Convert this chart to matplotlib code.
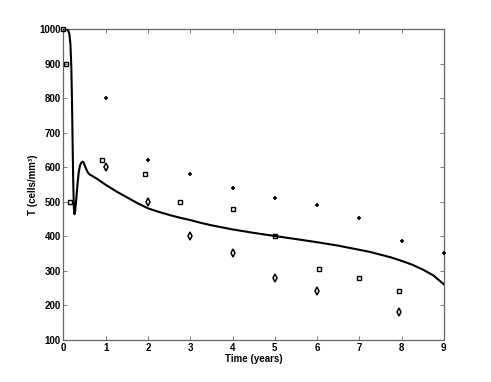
import matplotlib
matplotlib.use("Agg")
import matplotlib.pyplot as plt

# Model curve
curve_t = [0, 0.08, 0.11, 0.14, 0.165, 0.185, 0.2, 0.215, 0.23, 0.245, 0.258, 0.275,
           0.3, 0.33, 0.36, 0.39, 0.42, 0.45, 0.47, 0.5, 0.54, 0.58, 0.62, 0.65,
           0.8, 1.0, 1.25, 1.5, 1.75, 2.0, 2.25, 2.5, 2.75, 3.0, 3.25, 3.5, 3.75,
           4.0, 4.5, 5.0, 5.5, 6.0, 6.5, 7.0, 7.25, 7.5, 7.75, 8.0, 8.25, 8.5,
           8.75, 9.0]
curve_T = [1000, 999, 996, 985, 955, 890, 800, 680, 560, 485, 464, 472,
           505, 548, 585, 605, 613, 616, 615, 606, 594, 584, 579, 577,
           566, 549, 530, 513, 496, 481, 471, 462, 454, 447, 439, 432, 426,
           420, 410, 401, 392, 383, 373, 361, 355, 347, 339, 329, 318, 304,
           287, 261]

# Data series
plus_t = [1, 2, 3, 4, 5, 6, 7, 8, 9]
plus_T = [800, 620, 580, 540, 512, 490, 452, 386, 351]

sq_t = [0, 0.07, 0.15, 0.91, 1.92, 2.75, 4.0, 5.0, 6.05, 7.0, 7.95]
sq_T = [1000, 900, 500, 620, 580, 500, 480, 400, 306, 280, 241]

dia_t = [1, 2, 3, 4, 5, 6, 7.95]
dia_T = [600, 500, 400, 352, 280, 243, 180]

xticks = list(range(0, 10))
yticks = list(range(100, 1001, 100))

plt.rcParams['font.family'] = ['Liberation Sans', 'DejaVu Sans']

fig = plt.figure(figsize=(4.91, 3.82), dpi=100)
ax = fig.add_axes([0.1293, 0.110, 0.7747, 0.814])

ax.plot(curve_t, curve_T, color='black', lw=1.5, zorder=3, solid_joinstyle='round')
ax.plot(plus_t, plus_T, linestyle='none', marker='+', ms=3.5, mew=1.2, color='black',
        clip_on=False, zorder=4)
ax.plot(sq_t, sq_T, linestyle='none', marker='s', ms=3.2, mew=1.0, mfc='none', mec='black',
        clip_on=False, zorder=4)
ax.plot(dia_t, dia_T, linestyle='none', marker='d', ms=3.8, mew=1.1, mfc='none', mec='black',
        clip_on=False, zorder=4)

ax.set_xlim(0, 9)
ax.set_ylim(100, 1000)
ax.set_xticks(xticks)
ax.set_yticks(yticks)
ax.tick_params(direction='in', top=True, right=True, length=3, width=0.6,
               color='#666666', labelsize=7, pad=2)
for lab in ax.get_xticklabels() + ax.get_yticklabels():
    lab.set_fontweight('bold')
for s in ax.spines.values():
    s.set_color('#666666')
    s.set_linewidth(0.9)

ax.set_xlabel('Time (years)', fontsize=7, fontweight='bold', labelpad=1)
ax.set_ylabel('T (cells/mm³)', fontsize=7, fontweight='bold', labelpad=1)

fig.savefig('out.png', dpi=100)
